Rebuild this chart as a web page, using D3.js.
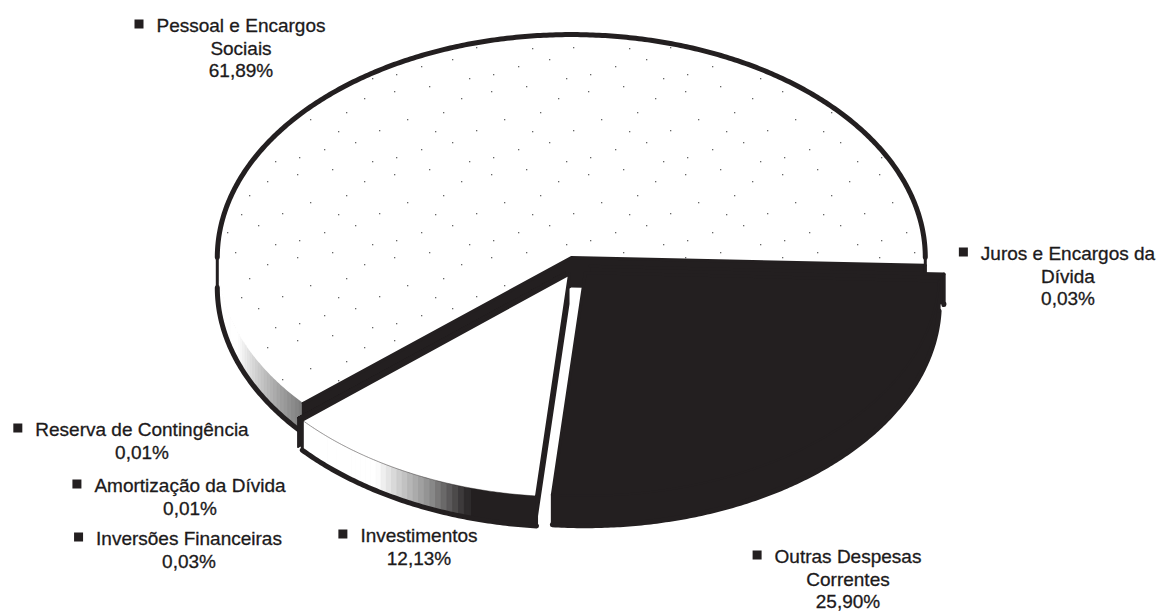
<!DOCTYPE html>
<html>
<head>
<meta charset="utf-8">
<script src="https://cdn.jsdelivr.net/npm/d3@7"></script>
<style>
  html, body { margin: 0; background: #fff; }
  svg { display: block; }
</style>
</head>
<body>
<svg id="chart" width="1166" height="612"></svg>
<script>
// Budget composition by expense group (share of total, %)
const categories = [
  "Pessoal e Encargos Sociais",
  "Reserva de Contingência",
  "Amortização da Dívida",
  "Inversões Financeiras",
  "Investimentos",
  "Outras Despesas Correntes",
  "Juros e Encargos da Dívida"
];
const shares = [61.89, 0.01, 0.01, 0.03, 12.13, 25.90, 0.03];
// Label text, broken into lines as printed
const labelNames = [
  ["Pessoal e Encargos", "Sociais"],
  ["Reserva de Contingência"],
  ["Amortização da Dívida"],
  ["Inversões Financeiras"],
  ["Investimentos"],
  ["Outras Despesas", "Correntes"],
  ["Juros e Encargos da", "Dívida"]
];

// ---- layout ----
const cx = 576, cy = 266, rx = 354, ry = 223;
const depth = 30;          // visible thickness of the disc
const explode = 0.04;      // slice pull-out, fraction of radius
const ink = "#231f20";
const deg = Math.PI / 180;
// label anchor: centre x, first baseline
const labelAnchor = [[241, 32], [142, 436], [190, 492], [189, 545], [419, 542], [848, 563], [1068, 260]];
const lineGap = 22.5;

const svg = d3.select("#chart");
const defs = svg.append("defs");
// sparse speckle used on the large slice
const pat = defs.append("pattern").attr("id", "specks")
  .attr("patternUnits", "userSpaceOnUse").attr("width", 97).attr("height", 83);
pat.append("rect").attr("width", 97).attr("height", 83).attr("fill", "#fff");
[[6, 8], [41, 3], [73, 15], [88, 47], [19, 36], [55, 29], [33, 66], [64, 59], [8, 74], [81, 78], [47, 48]]
  .forEach(([x, y]) =>
    pat.append("rect").attr("x", x).attr("y", y).attr("width", 1.3).attr("height", 1.3).attr("fill", "#666"));

// unit-circle -> screen
const xs = d3.scaleLinear().domain([-1, 1]).range([cx - rx, cx + rx]);
const ys = d3.scaleLinear().domain([-1, 1]).range([cy + ry, cy - ry]);

// slices run counter-clockwise from just below 3 o'clock
const pie = d3.pie().sort(null).value(d => d)
  .startAngle(92 * deg).endAngle(92 * deg - 2 * Math.PI);
const arcs = pie(shares);

const slices = arcs.map((a, i) => {
  const t0 = Math.PI / 2 - a.startAngle;
  const t1 = Math.PI / 2 - a.endAngle;
  const tm = (t0 + t1) / 2;
  return {
    i, t0, t1, tm,
    dx: xs(explode * Math.cos(tm)) - xs(0),
    dy: ys(explode * Math.sin(tm)) - ys(0)
  };
});

const pt = (s, t, z = 0) => [xs(Math.cos(t)) + s.dx, ys(Math.sin(t)) + s.dy + z];
const ctr = (s, z = 0) => [xs(0) + s.dx, ys(0) + s.dy + z];
function arcPts(s, a, b, z = 0) {
  const n = Math.max(2, Math.ceil(Math.abs(b - a) / (0.5 * deg)));
  return d3.range(n + 1).map(k => pt(s, a + (b - a) * k / n, z));
}
// portions of [a,b] on the near (front) half of the disc
function frontParts(a, b) {
  const out = [];
  for (let k = -1; k <= 2; k++) {
    const lo = Math.max(a, (2 * k - 1) * Math.PI), hi = Math.min(b, 2 * k * Math.PI);
    if (hi > lo) out.push([lo, hi]);
  }
  return out;
}
function backParts(a, b) {
  const out = [];
  for (let k = -1; k <= 2; k++) {
    const lo = Math.max(a, 2 * k * Math.PI), hi = Math.min(b, (2 * k + 1) * Math.PI);
    if (hi > lo) out.push([lo, hi]);
  }
  return out;
}

const line = d3.line();
const oriented = pts => (d3.polygonArea(pts) < 0 ? pts.slice().reverse() : pts);
const lerp = (c1, c2, u) => d3.interpolateRgb(c1, c2)(Math.max(0, Math.min(1, u)));

// surface styles per slice
const styles = [
  { top: "url(#specks)", wall: t => t < 0 ? null : (t < 200 ? "#fff" : lerp("#ffffff", "#7a7a7a", (t - 200) / 21)), rim: "none" },
  { top: ink, wall: () => null, rim: ink },
  { top: ink, wall: () => null, rim: ink },
  { top: ink, wall: () => null, rim: ink },
  { top: "#fff", wall: t => t < 237 ? "#fff" : (t < 247 ? lerp("#ffffff", "#8c8c8c", (t - 237) / 10) : (t < 254 ? lerp("#8c8c8c", ink, (t - 247) / 7) : null)), rim: "thin" },
  { top: ink, wall: () => null, rim: ink },
  { top: ink, wall: () => null, rim: ink }
];

// back-to-front drawing order
const order = slices.slice().sort((a, b) => {
  const d = s => Math.abs(((s.tm / deg - 270) % 360 + 540) % 360 - 180);
  return d(b) - d(a);
});

const pieG = svg.append("g");
order.forEach(s => {
  const st = styles[s.i];
  const g = pieG.append("g");
  const poly = [ctr(s), ...arcPts(s, s.t0, s.t1)];

  // extruded body: bottom face plus every side quad, all wound the same way
  let body = line(oriented(poly.map(p => [p[0], p[1] + depth]))) + "Z";
  for (let k = 0; k < poly.length; k++) {
    const p = poly[k], q = poly[(k + 1) % poly.length];
    body += line(oriented([p, q, [q[0], q[1] + depth], [p[0], p[1] + depth]])) + "Z";
  }
  g.append("path").attr("d", body).attr("fill", ink).attr("fill-rule", "nonzero");

  // shaded outer wall
  const fronts = frontParts(s.t0, s.t1);
  fronts.forEach(([a, b]) => {
    const n = Math.max(1, Math.ceil((b - a) / deg));
    for (let k = 0; k < n; k++) {
      const ta = a + (b - a) * k / n, tb = a + (b - a) * (k + 1) / n;
      const col = st.wall(((ta + tb) / 2) / deg);
      if (!col) continue;
      const seg = [pt(s, ta), pt(s, tb), pt(s, tb, depth), pt(s, ta, depth)];
      g.append("path").attr("d", line(seg) + "Z").attr("fill", col).attr("stroke", col).attr("stroke-width", 1.2);
    }
  });

  // top face
  g.append("path").attr("d", line(poly) + "Z").attr("fill", st.top)
    .attr("stroke", s.i >= 1 && s.i <= 3 ? ink : "none").attr("stroke-width", 1);

  // outlines
  const stroke = (pts, w, extra) => {
    const p = g.append("path").attr("d", line(pts)).attr("fill", "none")
      .attr("stroke", ink).attr("stroke-width", w).attr("stroke-linejoin", "round").attr("stroke-linecap", "round");
    if (extra) extra(p);
  };
  if (s.i >= 1 && s.i <= 3) return;
  stroke([pt(s, s.t0), ctr(s), pt(s, s.t1)], 3);
  backParts(s.t0, s.t1).forEach(([a, b]) => stroke(arcPts(s, a, b), 5));
  fronts.forEach(([a, b]) => {
    stroke(arcPts(s, a, b, depth), 5);
    stroke([pt(s, a), pt(s, a, depth)], 3);
    stroke([pt(s, b), pt(s, b, depth)], 3);
    if (st.rim === "thin") stroke(arcPts(s, a, b), 1, p => p.attr("stroke-opacity", 0.45));
    if (st.rim === ink) stroke(arcPts(s, a, b), 2);
  });
});

// labels
const fmt = v => d3.format(".2f")(v).replace(".", ",") + "%";
const labG = svg.append("g")
  .attr("font-family", "'Liberation Sans', Arial, sans-serif")
  .attr("font-size", 19).attr("fill", "#1c1a1b")
  .attr("stroke", "#1c1a1b").attr("stroke-width", 0.3)
  .attr("text-anchor", "middle");
categories.forEach((name, i) => {
  const [ax, ay] = labelAnchor[i];
  const lines = labelNames[i].concat([fmt(shares[i])]);
  const g = labG.append("g");
  let firstW = 0;
  lines.forEach((t, k) => {
    const txt = g.append("text").attr("x", ax).attr("y", ay + k * lineGap).text(t);
    if (k === 0) firstW = txt.node().getComputedTextLength();
  });
  g.append("rect")
    .attr("x", ax - firstW / 2 - 22).attr("y", ay - 12.5)
    .attr("width", 9).attr("height", 9).attr("fill", ink).attr("stroke", "none");
});
</script>
</body>
</html>
